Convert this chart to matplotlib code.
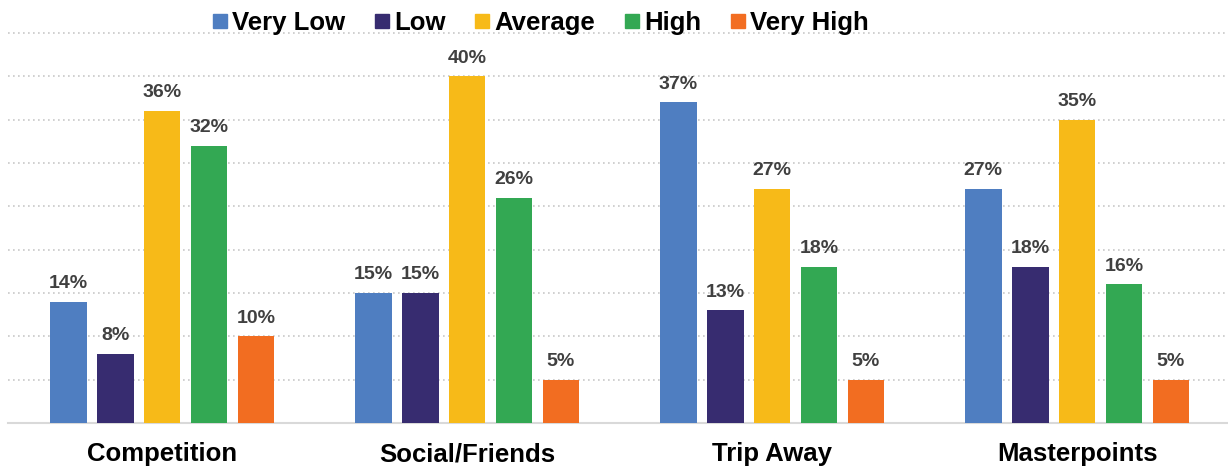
import matplotlib
matplotlib.use("Agg")
import matplotlib.pyplot as plt
from matplotlib.lines import Line2D
import numpy as np

plt.rcParams["font.family"] = ["Liberation Sans", "DejaVu Sans"]

categories = ["Competition", "Social/Friends", "Trip Away", "Masterpoints"]
series_names = ["Very Low", "Low", "Average", "High", "Very High"]
very_low = [14, 15, 37, 27]
low = [8, 15, 13, 18]
average = [36, 40, 27, 35]
high = [32, 26, 18, 16]
very_high = [10, 5, 5, 5]
series_values = [very_low, low, average, high, very_high]
colors = ["#4F7EC1", "#372C70", "#F7BA18", "#33A853", "#F26D21"]

fig = plt.figure(figsize=(12.28, 4.66), dpi=100)
ax = fig.add_axes([8 / 1228, 43 / 466, 1220 / 1228, 423 / 466])

x = np.arange(len(categories))
step = 0.154
width = 0.121
offsets = (np.arange(len(series_names)) - 2) * step

for vals, name, col, off in zip(series_values, series_names, colors, offsets):
    bars = ax.bar(x + off, vals, width=width, color=col, label=name, zorder=3)
    for b, v in zip(bars, vals):
        ax.annotate(f"{v}%", (b.get_x() + b.get_width() / 2, v),
                    xytext=(0, 7), textcoords="offset points",
                    ha="center", va="bottom", fontsize=14,
                    fontweight="bold", color="#404040", zorder=4)

ax.set_xlim(-0.505, 3.495)
ax.set_ylim(0, 48.8)
ax.set_yticks(np.arange(5, 50, 5))
ax.yaxis.grid(True, linestyle=(0, (1, 2)), color="#C8C8C8", linewidth=1.2, zorder=0)
ax.tick_params(axis="y", left=False, labelleft=False)
ax.tick_params(axis="x", bottom=False, length=0, pad=14)
ax.set_xticks(x)
ax.set_xticklabels(categories, fontsize=18.5, fontweight="bold", color="black")
for s in ["top", "right", "left"]:
    ax.spines[s].set_visible(False)
ax.spines["bottom"].set_color("#D9D9D9")
ax.spines["bottom"].set_linewidth(1.5)

handles = [Line2D([0], [0], marker="s", linestyle="none", markersize=10,
                  markerfacecolor=c, markeredgecolor=c) for c in colors]
fig.legend(handles, series_names, loc="center", ncol=5,
           bbox_to_anchor=(541 / 1228, 1 - 23 / 466), frameon=False,
           prop={"size": 18.5, "weight": "bold"}, handlelength=0.55,
           handletextpad=0.2, columnspacing=1.15, borderaxespad=0)

fig.savefig("out.png", dpi=100)
